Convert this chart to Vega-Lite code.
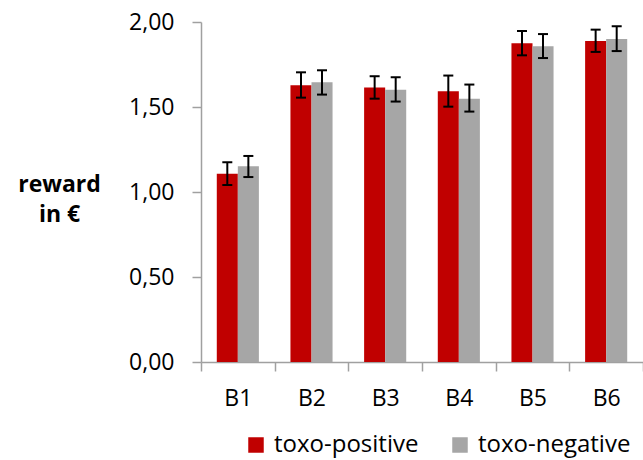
{
  "$schema": "https://vega.github.io/schema/vega-lite/v6.json",
  "width": 442,
  "height": 340,
  "autosize": "none",
  "padding": {"left": 201, "top": 22, "right": 0, "bottom": 98},
  "background": "white",
  "config": {
    "view": {"stroke": null},
    "font": "Open Sans"
  },
  "data": {
    "values": [
      {"block": "B1", "group": "toxo-positive", "mean": 1.108, "lo": 1.041, "hi": 1.175},
      {"block": "B1", "group": "toxo-negative", "mean": 1.151, "lo": 1.088, "hi": 1.212},
      {"block": "B2", "group": "toxo-positive", "mean": 1.628, "lo": 1.555, "hi": 1.704},
      {"block": "B2", "group": "toxo-negative", "mean": 1.645, "lo": 1.573, "hi": 1.716},
      {"block": "B3", "group": "toxo-positive", "mean": 1.614, "lo": 1.549, "hi": 1.681},
      {"block": "B3", "group": "toxo-negative", "mean": 1.602, "lo": 1.532, "hi": 1.675},
      {"block": "B4", "group": "toxo-positive", "mean": 1.592, "lo": 1.502, "hi": 1.685},
      {"block": "B4", "group": "toxo-negative", "mean": 1.549, "lo": 1.473, "hi": 1.632},
      {"block": "B5", "group": "toxo-positive", "mean": 1.875, "lo": 1.804, "hi": 1.947},
      {"block": "B5", "group": "toxo-negative", "mean": 1.857, "lo": 1.788, "hi": 1.929},
      {"block": "B6", "group": "toxo-positive", "mean": 1.888, "lo": 1.824, "hi": 1.955},
      {"block": "B6", "group": "toxo-negative", "mean": 1.900, "lo": 1.829, "hi": 1.975}
    ]
  },
  "encoding": {
    "x": {
      "field": "block",
      "type": "nominal",
      "scale": {"paddingInner": 0, "paddingOuter": 0},
      "axis": {
        "title": null,
        "labelAngle": 0,
        "tickBand": "extent",
        "domainColor": "#a0a0a0",
        "domainWidth": 1.5,
        "tickColor": "#a0a0a0",
        "tickWidth": 1.5,
        "tickSize": 9,
        "labelFont": "Open Sans",
        "labelFontSize": 23,
        "labelColor": "#000000",
        "labelPadding": 16
      }
    },
    "xOffset": {
      "field": "group",
      "type": "nominal",
      "sort": ["toxo-positive", "toxo-negative"],
      "scale": {"paddingInner": 0, "paddingOuter": 0.75}
    }
  },
  "layer": [
    {
      "mark": {"type": "bar"},
      "encoding": {
        "y": {
          "field": "mean",
          "type": "quantitative",
          "scale": {"domain": [0, 2], "nice": false},
          "axis": {
            "values": [0, 0.5, 1, 1.5, 2],
            "grid": false,
            "labelExpr": "replace(format(datum.value, '.2f'), '.', ',')",
            "domainColor": "#a0a0a0",
            "domainWidth": 1.5,
            "tickColor": "#a0a0a0",
            "tickWidth": 1.5,
            "tickSize": 9,
            "labelFont": "Open Sans",
            "labelFontSize": 23,
            "labelColor": "#000000",
            "labelPadding": 18,
            "title": ["reward", "in €"],
            "titleFont": "Open Sans",
            "titleFontSize": 23,
            "titleFontWeight": "bold",
            "titleColor": "#000000",
            "titleAngle": 0,
            "titleAlign": "center",
            "titleBaseline": "middle",
            "titleLineHeight": 30,
            "titleX": -142,
            "titleY": 162
          }
        },
        "color": {
          "field": "group",
          "type": "nominal",
          "scale": {"domain": ["toxo-positive", "toxo-negative"], "range": ["#c00000", "#a6a6a6"]},
          "legend": {
            "title": null,
            "orient": "none",
            "direction": "horizontal",
            "legendX": 43,
            "legendY": 411,
            "symbolType": "square",
            "symbolSize": 240,
            "symbolStrokeWidth": 0,
            "symbolOpacity": 1,
            "labelFont": "Open Sans",
            "labelFontSize": 24,
            "labelColor": "#000000",
            "labelOffset": 6,
            "columnPadding": 29,
            "labelLimit": 300
          }
        }
      }
    },
    {
      "mark": {"type": "rule", "color": "#000000", "strokeWidth": 2},
      "encoding": {
        "y": {"field": "lo", "type": "quantitative"},
        "y2": {"field": "hi"}
      }
    },
    {
      "mark": {"type": "tick", "color": "#000000", "thickness": 2, "size": 10, "opacity": 1},
      "encoding": {
        "y": {"field": "lo", "type": "quantitative"}
      }
    },
    {
      "mark": {"type": "tick", "color": "#000000", "thickness": 2, "size": 10, "opacity": 1},
      "encoding": {
        "y": {"field": "hi", "type": "quantitative"}
      }
    }
  ]
}
